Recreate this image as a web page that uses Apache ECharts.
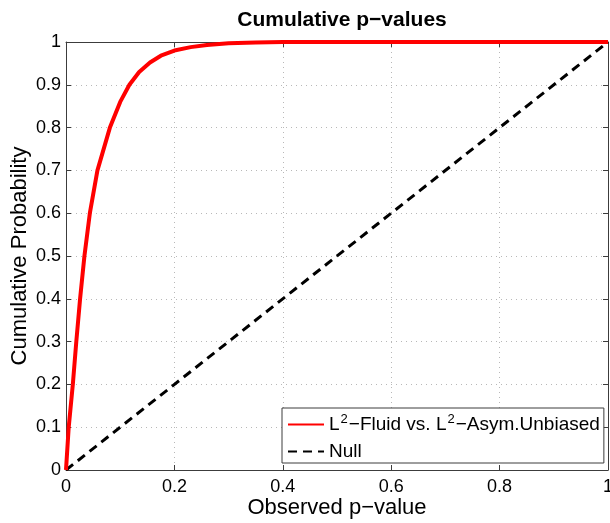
<!DOCTYPE html>
<html>
<head>
<meta charset="utf-8">
<script src="https://cdn.jsdelivr.net/npm/echarts@6/dist/echarts.min.js"></script>
<style>
  html, body { margin: 0; padding: 0; background: #fff; }
  #chart { width: 610px; height: 523px; }
</style>
</head>
<body>
<div id="chart"></div>
<script>
// Empirical CDF of observed p-values (L2-Fluid vs. L2-Asym.Unbiased)
const pValues = [0, 0.005, 0.0126, 0.019, 0.026, 0.034, 0.044, 0.058, 0.081, 0.1, 0.117, 0.135, 0.155, 0.175, 0.2, 0.23, 0.26, 0.3, 0.35, 0.4, 1];
const cumProb = [0, 0.1, 0.2, 0.3, 0.4, 0.5, 0.6, 0.7, 0.8, 0.86, 0.9, 0.93, 0.952, 0.968, 0.98, 0.988, 0.993, 0.997, 0.999, 1, 1];

// Uniform null reference
const nullX = [0, 1];
const nullY = [0, 1];

const seriesNames = ['L2-Fluid vs. L2-Asym.Unbiased', 'Null'];

const FONT = '"Liberation Sans", Arial, Helvetica, sans-serif';
const AXIS_COLOR = '#3c3c3c';

const chart = echarts.init(document.getElementById('chart'), null, { renderer: 'canvas' });

// Mirror axes that close the plot box on the top and right
const boxAxis = {
  axisLine: { show: true, onZero: false, lineStyle: { color: AXIS_COLOR, width: 1 } },
  axisTick: { show: true, inside: true, length: 5, lineStyle: { color: AXIS_COLOR } },
  axisLabel: { show: false },
  splitLine: { show: false }
};

const gridLine = { show: true, lineStyle: { color: '#b8b8b8', type: [1, 4], width: 1 } };

chart.setOption({
  animation: false,
  backgroundColor: '#ffffff',
  title: {
    text: 'Cumulative p\u2212values',
    left: 337,
    textAlign: 'center',
    top: 5,
    textStyle: { fontFamily: FONT, fontWeight: 'bold', fontSize: 21, color: '#000' }
  },
  grid: { left: 66, right: 2, top: 42, bottom: 53, containLabel: false, outerBoundsMode: 'none' },
  xAxis: [
    {
      type: 'value', min: 0, max: 1, interval: 0.2,
      name: 'Observed p\u2212value',
      nameLocation: 'middle', nameGap: 27, nameMoveOverlap: false,
      nameTextStyle: { fontFamily: FONT, fontSize: 22, color: '#000' },
      axisLine: { show: true, onZero: false, lineStyle: { color: AXIS_COLOR, width: 1 } },
      axisTick: { show: true, inside: true, length: 5, lineStyle: { color: AXIS_COLOR } },
      axisLabel: { fontFamily: FONT, fontSize: 18, color: '#000', margin: 8 },
      splitLine: gridLine
    },
    Object.assign({ type: 'value', min: 0, max: 1, interval: 0.2, position: 'top' }, boxAxis)
  ],
  yAxis: [
    {
      type: 'value', min: 0, max: 1, interval: 0.1,
      name: 'Cumulative Probability',
      nameLocation: 'middle', nameGap: 35, nameMoveOverlap: false,
      nameTextStyle: { fontFamily: FONT, fontSize: 22, color: '#000' },
      axisLine: { show: true, onZero: false, lineStyle: { color: AXIS_COLOR, width: 1 } },
      axisTick: { show: true, inside: true, length: 5, lineStyle: { color: AXIS_COLOR } },
      axisLabel: { fontFamily: FONT, fontSize: 18, color: '#000', margin: 5 },
      splitLine: gridLine
    },
    Object.assign({ type: 'value', min: 0, max: 1, interval: 0.1, position: 'right' }, boxAxis)
  ],
  legend: {
    orient: 'vertical',
    left: 282,
    top: 408,
    padding: [5, 4, 2, 5],
    itemGap: 8,
    itemWidth: 36,
    itemHeight: 14,
    backgroundColor: '#ffffff',
    borderColor: AXIS_COLOR,
    borderWidth: 1,
    data: seriesNames,
    itemStyle: { opacity: 0 },
    formatter: function (name) {
      if (name === seriesNames[0]) {
        return '{n|L}{s|2}{n|\u2212Fluid vs. L}{s|2}{n|\u2212Asym.Unbiased}';
      }
      return '{n|Null}';
    },
    textStyle: {
      fontFamily: FONT, fontSize: 19, color: '#000',
      rich: {
        n: { fontFamily: FONT, fontSize: 19, color: '#000' },
        s: { fontFamily: FONT, fontSize: 13, color: '#000', padding: [0, 1, 10, 1] }
      }
    }
  },
  series: [
    {
      name: seriesNames[0],
      type: 'line',
      xAxisIndex: 0, yAxisIndex: 0,
      data: pValues.map((p, i) => [p, cumProb[i]]),
      showSymbol: false,
      symbol: 'none',
      lineStyle: { color: '#ff0000', width: 4 },
      itemStyle: { color: '#ff0000' },
      z: 3
    },
    {
      name: seriesNames[1],
      type: 'line',
      xAxisIndex: 0, yAxisIndex: 0,
      data: nullX.map((p, i) => [p, nullY[i]]),
      showSymbol: false,
      symbol: 'none',
      lineStyle: { color: '#000000', width: 3, type: [9, 6] },
      itemStyle: { color: '#000000' },
      z: 2
    }
  ]
});
</script>
</body>
</html>
